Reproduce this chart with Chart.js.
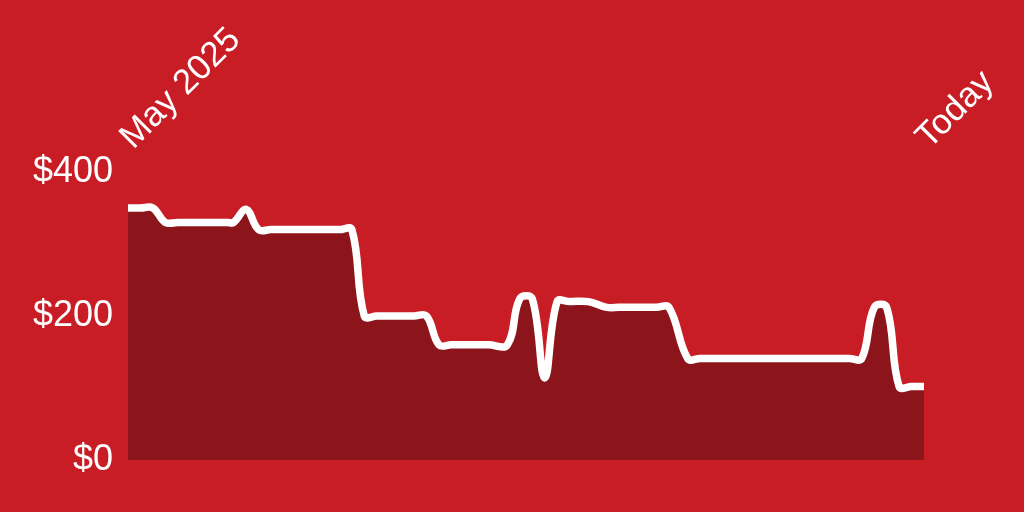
<!DOCTYPE html>
<html>
<head>
<meta charset="utf-8">
<script src="https://cdn.jsdelivr.net/npm/chart.js@4/dist/chart.umd.min.js"></script>
<style>
  html, body { margin: 0; padding: 0; background: #C91D26; }
  #wrap { width: 1024px; height: 512px; }
</style>
</head>
<body>
<div id="wrap"><canvas id="c" width="1024" height="512"></canvas></div>
<script>
// Days since start (x positions) and price in dollars
const days = [0,2,4,6,8,10,12,14,16,17,19,21,23,26,29,32,34,36,38,40,42,44,46,48,50,52,54,56,58,61,63,65,67,69,71,74,77,79,81,83,85,87,90,92,95,98,101,104,107,110,113,116,118,120,122,124,126,128];
const prices = [350,350,350,330,330,330,330,330,330,330,348,320,320,320,320,320,320,320,200,200,200,200,200,200,160,160,160,160,160,160,224,224,114,220,220,220,212,212,212,212,212,212,141,141,141,141,141,141,141,141,141,141,141,212,212,102,102,102];
const xTickLabels = ['May 2025', 'Today'];
const yTicks = [0, 200, 400];

const points = days.map((d, i) => ({ x: d, y: prices[i] }));
const FONT = '"Liberation Sans", Arial, Helvetica, sans-serif';

new Chart(document.getElementById('c'), {
  type: 'line',
  data: {
    datasets: [{
      data: points,
      borderColor: '#FFFFFF',
      borderWidth: 7.5,
      backgroundColor: '#8B151B',
      fill: 'origin',
      tension: 0.4,
      pointRadius: 0,
      borderCapStyle: 'butt',
      borderJoinStyle: 'round'
    }]
  },
  options: {
    responsive: false,
    animation: false,
    devicePixelRatio: 1,
    layout: { padding: { left: 0, right: 0, top: 0, bottom: 52 } },
    plugins: { legend: { display: false }, tooltip: { enabled: false } },
    scales: {
      x: {
        type: 'linear',
        position: 'top',
        min: days[0],
        max: days[days.length - 1],
        grid: { display: false, drawTicks: false },
        border: { display: false },
        afterBuildTicks: (s) => { s.ticks = [{ value: days[0] }, { value: days[days.length - 1] }]; },
        afterFit: (s) => { s.height = 172; s.paddingLeft = 0; s.paddingRight = 100; },
        ticks: {
          autoSkip: false,
          minRotation: 45,
          maxRotation: 45,
          padding: 14,
          labelOffset: 28,
          color: '#FFFFFF',
          font: { family: FONT, size: 35 },
          callback: (v) => v === days[0] ? xTickLabels[0] : (v === days[days.length - 1] ? xTickLabels[1] : '')
        }
      },
      y: {
        min: 0,
        max: 400,
        grid: { display: false, drawTicks: false },
        border: { display: false },
        afterBuildTicks: (s) => { s.ticks = yTicks.map(v => ({ value: v })); },
        afterFit: (s) => { s.width = 128; s.paddingTop = 0; s.paddingBottom = 0; },
        ticks: {
          padding: 15,
          color: '#FFFFFF',
          font: { family: FONT, size: 36 },
          callback: (v) => '$' + v
        }
      }
    }
  }
});
</script>
</body>
</html>
